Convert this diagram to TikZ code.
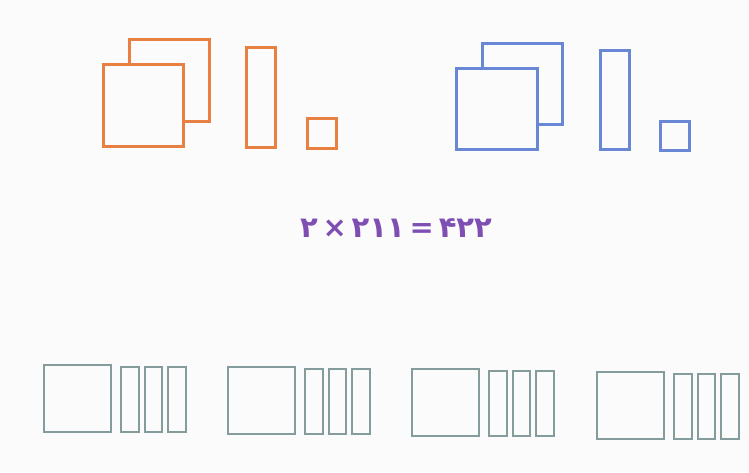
\documentclass[tikz,border=0pt]{standalone}
\usepackage{fontspec}
\usetikzlibrary{positioning}
\newfontfamily\persianfont{DejaVu Sans}

\definecolor{paper}{RGB}{251,251,252}
\definecolor{orangeline}{RGB}{232,128,66}
\definecolor{blueline}{RGB}{104,136,214}
\definecolor{tealline}{RGB}{132,156,156}
\definecolor{numpurple}{RGB}{126,78,178}

\tikzset{
    orangebox/.style={rectangle, draw=orangeline, line width=2.8pt, fill=paper, inner sep=0pt, anchor=north west},
    bluebox/.style={rectangle, draw=blueline, line width=2.8pt, fill=paper, inner sep=0pt, anchor=north west},
    tealsquare/.style={rectangle, draw=tealline, line width=2pt, inner sep=0pt, minimum width=67pt, minimum height=67pt, anchor=north west},
    tealbar/.style={rectangle, draw=tealline, line width=2pt, inner sep=0pt, minimum width=17.5pt, minimum height=65pt}
}

\begin{document}
\begin{tikzpicture}[x=1pt, y=-1pt, node distance=4pt]

        % Background
        \fill[paper] (0,0) rectangle (749,472);
        \useasboundingbox (0,0) rectangle (749,472);

        % Orange blocks
        \node[orangebox, minimum width=80pt, minimum height=82pt](oBack) at (128,38) {};
        \node[orangebox, minimum width=80pt, minimum height=82pt](oFront) at (102,63) {};
        \node[orangebox, minimum width=29pt, minimum height=100pt](oTen) at (245,46) {};
        \node[orangebox, minimum width=29pt, minimum height=30pt](oOne) at (306,117) {};

        % Blue blocks
        \node[bluebox, minimum width=80pt, minimum height=81pt](bBack) at (481,42) {};
        \node[bluebox, minimum width=81pt, minimum height=81pt](bFront) at (455,67) {};
        \node[bluebox, minimum width=29pt, minimum height=99pt](bTen) at (599,49) {};
        \node[bluebox, minimum width=29pt, minimum height=29pt](bOne) at (659,120) {};

        % Equation
        \node[text=numpurple, font=\persianfont\bfseries\fontsize{29}{34}\selectfont](eq) at (396,228) {۲\,×\,۲۱۱\,=\,۴۲۲};

        % Teal groups
        \node[tealsquare](sqA) at (43,364) {};
        \node[tealbar](barA1)[right=8pt of sqA.south east, anchor=south west] {};
        \node[tealbar](barA2)[right=of barA1] {};
        \node[tealbar](barA3)[right=of barA2] {};

        \node[tealsquare](sqB) at (227,366) {};
        \node[tealbar](barB1)[right=8pt of sqB.south east, anchor=south west] {};
        \node[tealbar](barB2)[right=of barB1] {};
        \node[tealbar](barB3)[right=of barB2] {};

        \node[tealsquare](sqC) at (411,368) {};
        \node[tealbar](barC1)[right=8pt of sqC.south east, anchor=south west] {};
        \node[tealbar](barC2)[right=of barC1] {};
        \node[tealbar](barC3)[right=of barC2] {};

        \node[tealsquare](sqD) at (596,371) {};
        \node[tealbar](barD1)[right=8pt of sqD.south east, anchor=south west] {};
        \node[tealbar](barD2)[right=of barD1] {};
        \node[tealbar](barD3)[right=of barD2] {};

    \end{tikzpicture}
\end{document}
